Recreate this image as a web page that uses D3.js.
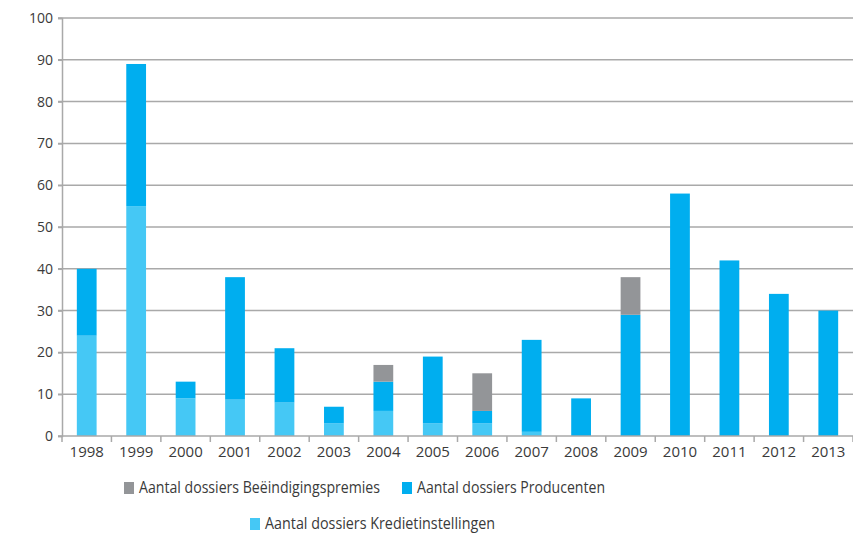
<!DOCTYPE html>
<html><head><meta charset="utf-8">
<script src="https://cdn.jsdelivr.net/npm/d3@7"></script>
<style>body{margin:0;background:#fff}svg{display:block}text{font-family:"Open Sans",sans-serif;fill:#3a3a3a}</style>
</head><body><svg id="c" width="853" height="535"></svg>
<script>
const years = ["1998","1999","2000","2001","2002","2003","2004","2005","2006","2007","2008","2009","2010","2011","2012","2013"];
const krediet = [24,55,9,8.7,8,3,6,3,3,1,0,0,0,0,0,0];
const producenten = [16,34,4,29.3,13,4,7,16,3,22,9,29,58,42,34,30];
const beeindiging = [0,0,0,0,0,0,4,0,9,0,0,9,0,0,0,0];
const yTicks = [0,10,20,30,40,50,60,70,80,90,100];
const seriesNames = ["Aantal dossiers Beëindigingspremies","Aantal dossiers Producenten","Aantal dossiers Kredietinstellingen"];
const colors = {krediet:"#45c8f5", producenten:"#00aeef", beeindiging:"#939598"};

const svg = d3.select("#c");
const m = {l:62, r:853, t:18, b:436};
const x = d3.scaleBand().domain(years).range([m.l, m.r]).paddingInner(0.6).paddingOuter(0.3);
const y = d3.scaleLinear().domain([0,100]).range([m.b, m.t]);

// grid
svg.append("g").selectAll("line").data(yTicks.filter(d=>d>0)).join("line")
  .attr("x1", m.l-4).attr("x2", m.r).attr("y1", d=>y(d)).attr("y2", d=>y(d))
  .attr("stroke","#a9a9a9").attr("stroke-width",1.5);

const data = years.map((yr,i)=>({year:yr, krediet:krediet[i], producenten:producenten[i], beeindiging:beeindiging[i]}));
const stack = d3.stack().keys(["krediet","producenten","beeindiging"])(data);
svg.append("g").selectAll("g").data(stack).join("g").attr("fill", s=>colors[s.key])
  .selectAll("rect").data(s=>s).join("rect")
  .attr("x", d=>x(d.data.year)).attr("width", x.bandwidth())
  .attr("y", d=>y(d[1])).attr("height", d=>y(d[0])-y(d[1]));

// y axis
const yAxis = svg.append("g").attr("transform",`translate(${m.l},0)`)
  .call(d3.axisLeft(y).tickValues(yTicks).tickSize(4).tickPadding(5));
yAxis.select(".domain").attr("stroke","#a9a9a9").attr("stroke-width",1.5);
yAxis.selectAll(".tick line").attr("stroke","#a9a9a9").attr("stroke-width",1.5);
yAxis.selectAll("text").style("font-size","14px").attr("fill","#3a3a3a");

// x axis
const xg = svg.append("g").attr("transform",`translate(0,${m.b})`);
xg.append("line").attr("x1",m.l-4).attr("x2",m.r).attr("stroke","#a9a9a9").attr("stroke-width",1.5);
const step = x.step();
const bounds = years.map((d,i)=> x(d) + x.bandwidth()/2 - step/2).concat([x(years[years.length-1]) + x.bandwidth()/2 + step/2]);
xg.selectAll("line.t").data(bounds).join("line").attr("class","t")
  .attr("x1",d=>d).attr("x2",d=>d).attr("y1",0).attr("y2",6)
  .attr("stroke","#a9a9a9").attr("stroke-width",1.5);
xg.selectAll("text").data(years).join("text")
  .attr("x", d=>x(d)+x.bandwidth()/2).attr("y", 21)
  .attr("text-anchor","middle").style("font-size","15px").text(d=>d);

// legend
const leg = [
  {name:seriesNames[0], color:colors.beeindiging, x:124, y:493, w:241},
  {name:seriesNames[1], color:colors.producenten, x:402, y:493, w:188},
  {name:seriesNames[2], color:colors.krediet, x:250, y:529, w:230}
];
const lg = svg.append("g").selectAll("g").data(leg).join("g").attr("transform",d=>`translate(${d.x},${d.y})`);
lg.append("rect").attr("x",0).attr("y",-11).attr("width",10).attr("height",12).attr("fill",d=>d.color);
lg.append("text").attr("x",15).attr("y",0).style("font-size","16px")
  .attr("textLength",d=>d.w).attr("lengthAdjust","spacingAndGlyphs").text(d=>d.name);
</script></body></html>
